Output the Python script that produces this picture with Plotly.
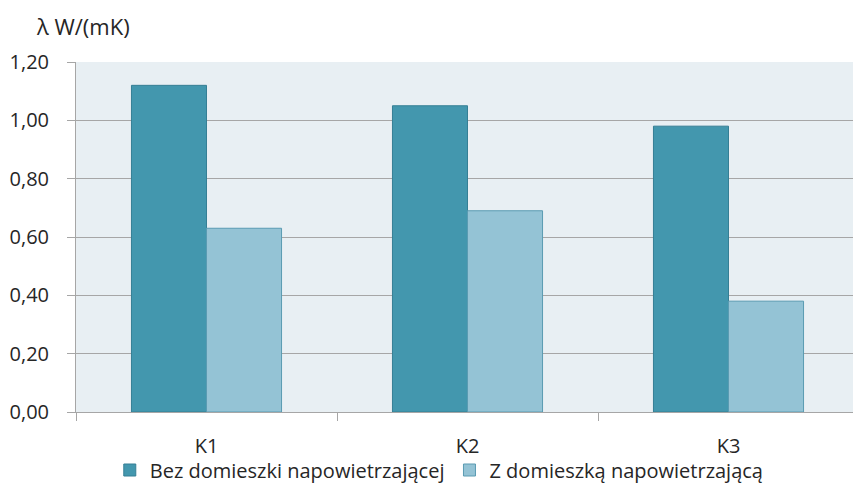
import plotly.graph_objects as go

categories = ["K1", "K2", "K3"]
bez_domieszki = [1.12, 1.05, 0.98]
z_domieszka = [0.63, 0.69, 0.38]
series_names = ["Bez domieszki napowietrzającej", "Z domieszką napowietrzającą"]
y_ticks = [0.0, 0.2, 0.4, 0.6, 0.8, 1.0, 1.2]

FONT = "Open Sans"
TEXT = "#262626"
GRID = "#a6a6a6"
FS = 20

fig = go.Figure()
fig.add_trace(go.Bar(
    x=categories, y=bez_domieszki, name=series_names[0],
    marker=dict(color="#4397ae", line=dict(color="#357f95", width=1)),
))
fig.add_trace(go.Bar(
    x=categories, y=z_domieszka, name=series_names[1],
    marker=dict(color="#94c3d5", line=dict(color="#5a9bb2", width=1)),
))

fig.update_layout(
    width=853, height=484,
    margin=dict(l=76, r=0, t=62, b=72, autoexpand=False),
    paper_bgcolor="white",
    plot_bgcolor="#e8eff3",
    separators=", ",
    barmode="group",
    bargap=0.425,
    bargroupgap=0,
    font=dict(family=FONT, size=FS, color=TEXT),
    title=dict(text="λ W/(mK)", x=37 / 853, xanchor="left", xref="container",
               y=1 - 27 / 484, yanchor="middle", yref="container",
               font=dict(family=FONT, size=22, color=TEXT)),
    showlegend=True,
    legend=dict(orientation="h", x=0.515, xanchor="center", xref="container",
                y=1 - 470 / 484, yanchor="middle", yref="container",
                font=dict(family=FONT, size=FS, color=TEXT),
                itemwidth=30, traceorder="normal", bgcolor="rgba(0,0,0,0)"),
)

fig.update_xaxes(
    range=[-0.5, 2.477],
    automargin=False,
    showgrid=False,
    showline=True, linecolor=GRID, linewidth=1,
    ticks="outside", tickson="boundaries", ticklen=8, tickcolor=GRID,
    tickfont=dict(family=FONT, size=FS, color=TEXT),
    ticklabelstandoff=16,
)
fig.update_yaxes(
    range=[0, 1.2],
    automargin=False,
    tickvals=y_ticks, tickformat=".2f",
    showgrid=True, gridcolor=GRID, gridwidth=1.3,
    zeroline=False,
    showline=True, linecolor=GRID, linewidth=1,
    ticks="outside", ticklen=8, tickcolor=GRID,
    tickfont=dict(family=FONT, size=FS, color=TEXT),
    ticklabelstandoff=14,
)

fig.write_html("out.html")
